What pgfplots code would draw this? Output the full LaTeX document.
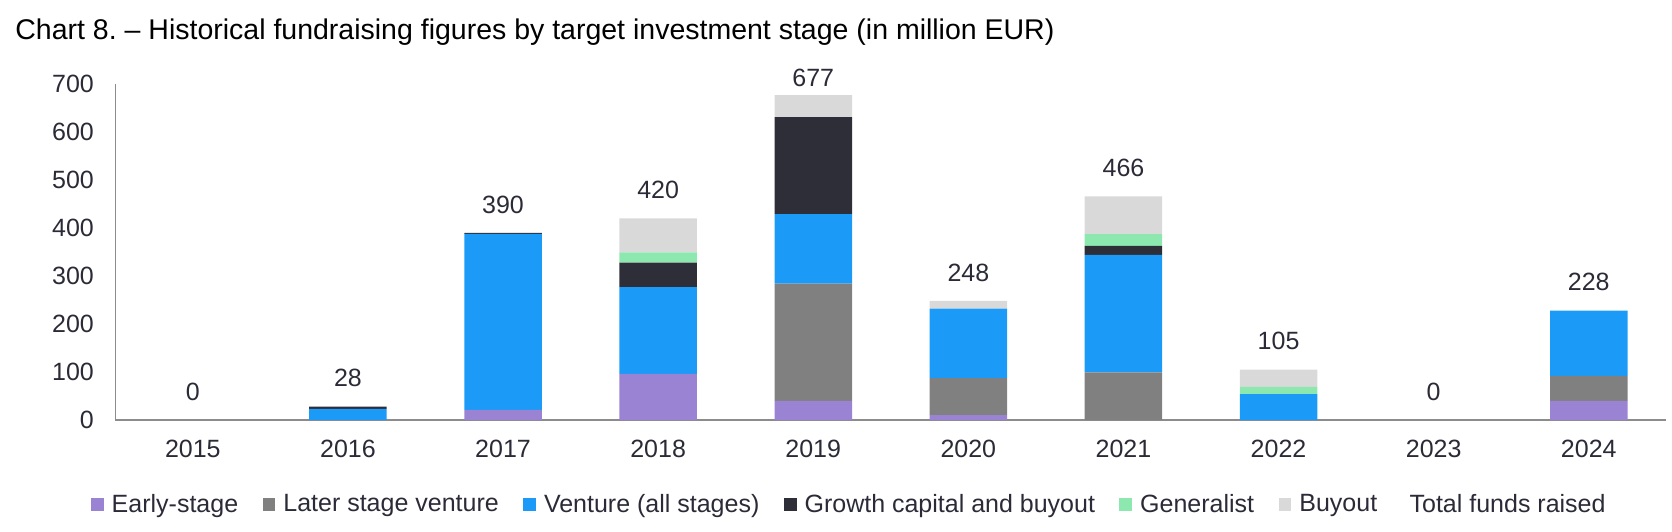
\documentclass[border=0pt]{standalone}
\usepackage{fontspec}
\setmainfont{Liberation Sans}
\usepackage{pgfplots}
\usepackage{pgfplotstable}
\pgfplotsset{compat=1.18}

\definecolor{cEarly}{HTML}{9B83D3}
\definecolor{cLater}{HTML}{808080}
\definecolor{cVenture}{HTML}{1B9BF7}
\definecolor{cGrowth}{HTML}{2E2E38}
\definecolor{cGeneralist}{HTML}{8DE8AF}
\definecolor{cBuyout}{HTML}{D9D9D9}
\definecolor{cText}{HTML}{2B2B38}
\definecolor{cAxis}{HTML}{8C8C8C}

% Funds raised by target investment stage, million EUR (x = 0 is 2015)
\pgfplotstableread{
x early later venture growth generalist buyout total
0 0   0   0   0   0  0  0
1 0   0   23  5   0  0  28
2 21  0   367 2   0  0  390
3 96  0   181 51  21 71 420
4 40  244 145 202 0  46 677
5 10  77  145 0   0  16 248
6 0   99  245 19  24 79 466
7 0   0   54  0   15 36 105
8 0   0   0   0   0  0  0
9 40  52  136 0   0  0  228
}\fundsdata

\newcommand{\chartfont}{\fontsize{12.5}{14}\selectfont}

\pgfplotsset{
  frame/.style={
    at={(57.65pt,55.5pt)}, anchor=south west,
    scale only axis, width=775.5pt, height=168pt,
    xmin=-0.5, xmax=9.5, ymin=0, ymax=700,
    /pgf/number format/assume math mode=true,
  },
}

\begin{document}
\begin{tikzpicture}[x=1pt,y=1pt]
\useasboundingbox (0,0) rectangle (836,265.5);
\node[anchor=base west, inner sep=0pt, font=\fontsize{14.25}{16}\selectfont]
  at (7.5,245.5) {Chart 8.\ – Historical fundraising figures by target investment stage (in million EUR)};

\begin{axis}[
  frame,
  ybar stacked, bar width=38.75pt,
  axis x line*=bottom, axis y line*=left,
  axis line style={-, cAxis, line width=0.6pt},
  xtick={0,...,9},
  xticklabels={2015,2016,2017,2018,2019,2020,2021,2022,2023,2024},
  ytick={0,100,...,700},
  major tick length=0pt, tick style={draw=none},
  x tick label style={font=\chartfont, text=cText, inner sep=0pt, anchor=north, yshift=-10pt},
  y tick label style={font=\chartfont, text=cText, inner sep=0pt, anchor=east, xshift=-10.5pt},
  legend columns=-1,
  legend image code/.code={\fill[#1] (0pt,-3.2pt) rectangle (6.4pt,3.2pt);},
  legend style={
    at={(-0.0157,-0.2515)}, anchor=west,
    draw=none, fill=none, inner sep=0pt, outer sep=0pt,
    font=\chartfont, text=cText,
    cells={anchor=west},
    nodes={inner sep=0pt},
    /tikz/every odd column/.append style={column sep=4pt},
    /tikz/every even column/.append style={column sep=12.2pt},
  },
]
\addplot[fill=cEarly, draw=none] table[x=x, y=early] {\fundsdata};
\addlegendentry{Early-stage}
\addplot[fill=cLater, draw=none] table[x=x, y=later] {\fundsdata};
\addlegendentry{Later stage venture}
\addplot[fill=cVenture, draw=none] table[x=x, y=venture] {\fundsdata};
\addlegendentry{Venture (all stages)}
\addplot[fill=cGrowth, draw=none] table[x=x, y=growth] {\fundsdata};
\addlegendentry{Growth capital and buyout}
\addplot[fill=cGeneralist, draw=none] table[x=x, y=generalist] {\fundsdata};
\addlegendentry{Generalist}
\addplot[fill=cBuyout, draw=none] table[x=x, y=buyout] {\fundsdata};
\addlegendentry{Buyout}
\addlegendimage{empty legend}
\addlegendentry{Total funds raised}
\end{axis}

% Total labels above each stack
\begin{axis}[
  frame, hide axis,
  nodes near coords,
  point meta=y,
  nodes near coords style={font=\chartfont, text=cText, inner sep=0pt, anchor=south},
]
\addplot[draw=none, mark=none, x filter/.expression={x==4 ? nan : x},
  nodes near coords style={yshift=9.5pt}] table[x=x, y=total] {\fundsdata};
\addplot[draw=none, mark=none, x filter/.expression={x==4 ? x : nan},
  nodes near coords style={yshift=4pt}] table[x=x, y=total] {\fundsdata};
\end{axis}
\end{tikzpicture}
\end{document}
